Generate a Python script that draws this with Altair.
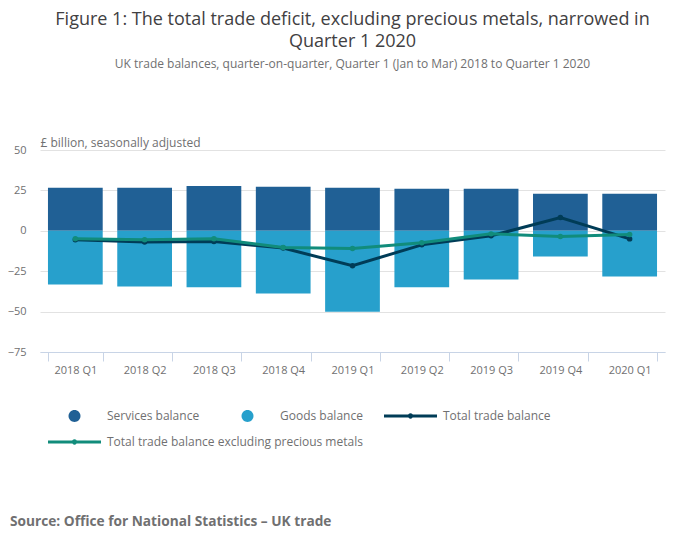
"""UK trade balances, quarter-on-quarter, Q1 2018 to Q1 2020."""

import pandas as pd
import altair as alt

quarters = ["2018 Q1", "2018 Q2", "2018 Q3", "2018 Q4", "2019 Q1",
            "2019 Q2", "2019 Q3", "2019 Q4", "2020 Q1"]
services = [26.6, 26.6, 27.8, 27.2, 26.6, 26.0, 26.0, 22.9, 22.9]
goods = [-33.2, -34.4, -35.0, -38.8, -50.1, -35.0, -30.1, -15.9, -28.3]
total = [-5.6, -7.0, -6.6, -10.7, -21.6, -8.7, -3.1, 8.2, -5.0]
total_ex_metals = [-4.9, -5.6, -4.9, -10.3, -10.9, -7.4, -1.9, -3.5, -2.3]

series_names = ["Services balance", "Goods balance", "Total trade balance",
                "Total trade balance excluding precious metals"]
series_colors = ["#206095", "#27a0cc", "#003c57", "#118c7b"]
y_ticks = [-75, -50, -25, 0, 25, 50]

source_text = "Source: Office for National Statistics \u2013 UK trade"

bars_df = pd.DataFrame({
    "quarter": quarters * 2,
    "series": [series_names[0]] * 9 + [series_names[1]] * 9,
    "value": services + goods,
})
total_df = pd.DataFrame({
    "quarter": quarters, "series": series_names[2], "value": total,
})
ex_df = pd.DataFrame({
    "quarter": quarters, "series": series_names[3], "value": total_ex_metals,
})
source_df = pd.DataFrame({"text": [source_text]})

FONT = "Open Sans"
GREY = "#707071"

# legend symbols: round dot for the bars, line with a dot for the lines
circle_path = ("M0.226,0A0.226,0.226 0 1,1 -0.226,0"
               "A0.226,0.226 0 1,1 0.226,0Z")
line_path = ("M-1,-0.057H1V0.057H-1Z"
             "M0.1,0A0.1,0.1 0 1,1 -0.1,0A0.1,0.1 0 1,1 0.1,0Z")
shape_expr = (
    "datum.value == 'Services balance' || datum.value == 'Goods balance'"
    f" ? '{circle_path}' : '{line_path}'"
)

legend_common = dict(
    title=None, orient="none", legendX=8, padding=0,
    columnPadding=21, clipHeight=20,
    symbolSize=2809, symbolStrokeWidth=0, symbolOpacity=1, labelOffset=6,
    labelFont=FONT, labelFontSize=12, labelColor=GREY, labelLimit=400,
)

# row 1: services, goods, total; row 2: total excluding precious metals
color = alt.Color(
    "series:N",
    scale=alt.Scale(domain=series_names[:3], range=series_colors[:3]),
    legend=alt.Legend(
        legendY=256, columns=3, direction="horizontal",
        symbolType=alt.ExprRef(shape_expr),
        symbolFillColor=alt.ExprRef("scale('color', datum.value)"),
        **legend_common,
    ),
)
stroke = alt.Stroke(
    "series:N",
    scale=alt.Scale(domain=series_names[3:], range=series_colors[3:]),
    legend=alt.Legend(
        legendY=282, columns=1, symbolType=line_path,
        symbolFillColor=series_colors[3],
        **legend_common,
    ),
)

x = alt.X(
    "quarter:N", sort=quarters, title=None,
    scale=alt.Scale(paddingInner=0.21, paddingOuter=0.115),
    axis=alt.Axis(labelAngle=0, labelFont=FONT, labelFontSize=11,
                  labelColor=GREY, labelPadding=3, domainColor="#c8d4e6",
                  tickColor="#c8d4e6", tickSize=9, tickBand="extent",
                  grid=False, zindex=1),
)
y = alt.Y(
    "value:Q", title="\u00a3 billion, seasonally adjusted",
    scale=alt.Scale(domain=[-75, 50], nice=False),
    axis=alt.Axis(values=y_ticks, domain=False, ticks=False, tickSize=0,
                  labelFont=FONT, labelFontSize=11, labelColor=GREY,
                  labelPadding=14, gridColor="#e2e2e2",
                  titleAngle=0, titleAlign="left", titleBaseline="alphabetic",
                  titleX=0, titleY=-4, titleFont=FONT, titleFontSize=12,
                  titleFontWeight="normal", titleColor=GREY),
)

bars = alt.Chart(bars_df).mark_bar().encode(
    x=x, y=alt.Y("value:Q", stack=None), color=color,
)

total_line = alt.Chart(total_df).mark_line(
    strokeWidth=3,
    point=alt.OverlayMarkDef(filled=True, size=30),
).encode(x=x, y=y, color=color)

ex_line = alt.Chart(ex_df).mark_line(strokeWidth=3).encode(
    x=x, y=y, stroke=stroke,
)
ex_points = alt.Chart(ex_df).mark_circle(
    size=30, opacity=1, color=series_colors[3],
).encode(x=x, y=y)

source = alt.Chart(source_df).mark_text(
    align="left", baseline="alphabetic", font=FONT, fontSize=13.7,
    fontWeight="bold", color=GREY,
).encode(x=alt.value(-30), y=alt.value(376), text="text:N")

chart = alt.layer(bars, total_line, ex_line, ex_points, source).properties(
    width=625, height=202,
    autosize=alt.AutoSizeParams(type="none"),
    padding={"left": 32, "top": 142, "right": 20, "bottom": 180},
    title=alt.Title(
        text=["Figure 1: The total trade deficit, excluding precious metals, narrowed in",
              "Quarter 1 2020"],
        subtitle="UK trade balances, quarter-on-quarter, Quarter 1 (Jan to Mar) 2018 to Quarter 1 2020",
        anchor="middle", frame="group", font=FONT, fontSize=18,
        fontWeight="normal", color="#414042", lineHeight=22, limit=680,
        subtitleFont=FONT, subtitleFontSize=12, subtitleColor=GREY,
        subtitlePadding=8, offset=66,
    ),
).configure_view(stroke=None)

chart.save("out.html", embed_options={"renderer": "svg", "actions": False})
